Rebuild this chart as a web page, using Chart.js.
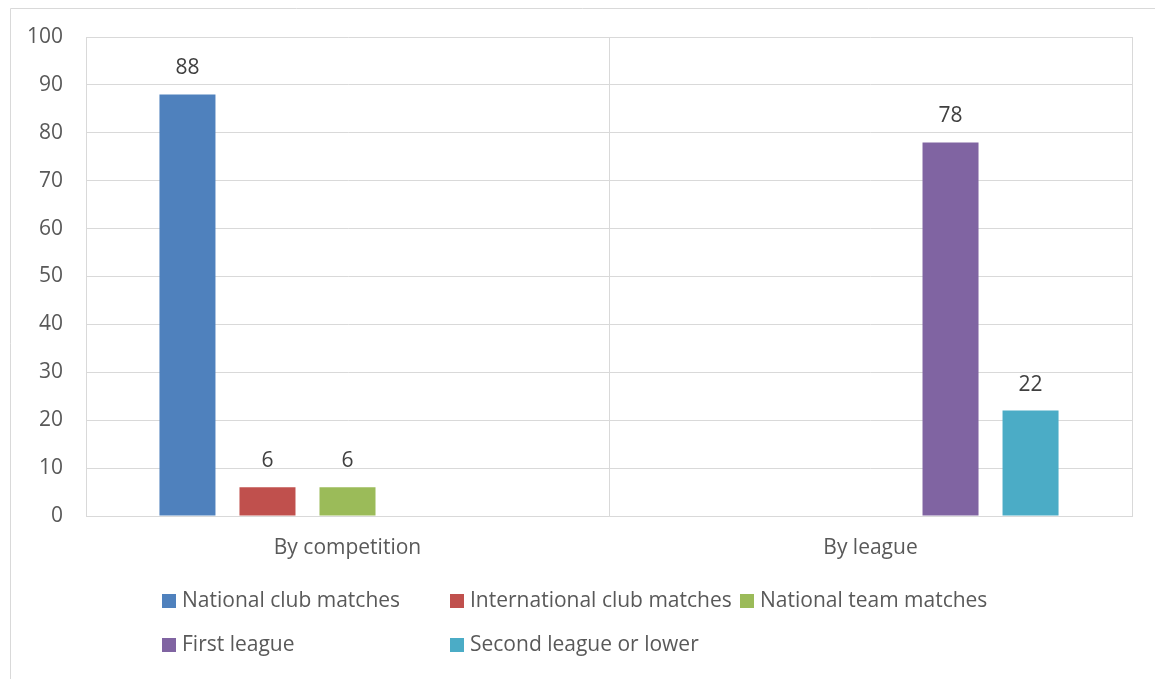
<!DOCTYPE html>
<html>
<head>
<meta charset="utf-8">
<script src="https://cdn.jsdelivr.net/npm/chart.js@4"></script>
<style>
  html, body { margin: 0; padding: 0; background: #fff; }
  #wrap { position: relative; width: 1155px; height: 679px; }
</style>
</head>
<body>
<div id="wrap"><canvas id="matchesChart" width="1155" height="679"></canvas></div>
<script>
let categories = ['By competition', 'By league'];
let seriesNames = ['National club matches', 'International club matches', 'National team matches', 'First league', 'Second league or lower'];
let nationalClub = [88, null];
let internationalClub = [6, null];
let nationalTeam = [6, null];
let firstLeague = [null, 78];
let secondLeague = [null, 22];
let seriesColors = ['#4f81bd', '#c0504d', '#9bbb59', '#8064a2', '#4bacc6'];
let yTicks = [0, 10, 20, 30, 40, 50, 60, 70, 80, 90, 100];

let fontFamily = "'Open Sans', sans-serif";
let fontSize = 21;
let gridColor = '#d9d9d9';

let datasets = [nationalClub, internationalClub, nationalTeam, firstLeague, secondLeague].map((values, i) => {
    return {
        label: seriesNames[i],
        data: values,
        backgroundColor: seriesColors[i],
        borderWidth: 0,
        categoryPercentage: 0.765,
        barPercentage: 0.7
    };
});

// frame line along the top and left edge
let framePlugin = {
    id: 'frame',
    beforeDraw: chart => {
        let ctx = chart.ctx;
        ctx.save();
        ctx.strokeStyle = gridColor;
        ctx.lineWidth = 1;
        ctx.beginPath();
        ctx.moveTo(10.5, 679);
        ctx.lineTo(10.5, 8.5);
        ctx.lineTo(1155, 8.5);
        ctx.stroke();
        ctx.restore();
    }
};

// value labels above each bar
let valueLabels = {
    id: 'valueLabels',
    afterDatasetsDraw: chart => {
        let ctx = chart.ctx;
        ctx.save();
        ctx.font = fontSize + 'px ' + fontFamily;
        ctx.fillStyle = '#404040';
        ctx.textAlign = 'center';
        ctx.textBaseline = 'middle';
        chart.data.datasets.forEach((ds, i) => {
            chart.getDatasetMeta(i).data.forEach((bar, j) => {
                let v = ds.data[j];
                if (v === null || v === undefined) return;
                ctx.fillText(String(v), bar.x, bar.y - 26);
            });
        });
        ctx.restore();
    }
};

// legend in two rows with aligned columns
let columnLegend = {
    id: 'columnLegend',
    afterDraw: chart => {
        let ctx = chart.ctx;
        let cols = [162, 450, 740];
        let rows = [601, 645];
        ctx.save();
        ctx.font = fontSize + 'px ' + fontFamily;
        ctx.textBaseline = 'middle';
        ctx.textAlign = 'left';
        chart.data.datasets.forEach((ds, i) => {
            let x = cols[i < 3 ? i : i - 3];
            let y = rows[i < 3 ? 0 : 1];
            ctx.fillStyle = ds.backgroundColor;
            ctx.fillRect(x, y - 7, 14, 14);
            ctx.fillStyle = '#595959';
            ctx.fillText(ds.label, x + 20, y);
        });
        ctx.restore();
    }
};

new Chart(document.getElementById('matchesChart').getContext('2d'), {
    type: 'bar',
    data: {
        labels: categories,
        datasets: datasets
    },
    options: {
        responsive: false,
        animation: false,
        layout: {
            padding: {top: 37, right: 23, bottom: 0, left: 0}
        },
        plugins: {
            legend: {display: false},
            tooltip: {enabled: false}
        },
        scales: {
            x: {
                grid: {color: gridColor, offset: true, drawTicks: false},
                border: {color: gridColor},
                ticks: {
                    color: '#595959',
                    font: {family: fontFamily, size: fontSize},
                    padding: 19
                },
                afterFit: scale => { scale.height = 163; }
            },
            y: {
                min: 0,
                max: 100,
                afterBuildTicks: scale => {
                    scale.ticks = yTicks.map(v => ({value: v}));
                },
                grid: {color: gridColor, drawTicks: false},
                border: {color: gridColor},
                ticks: {
                    color: '#595959',
                    font: {family: fontFamily, size: fontSize},
                    padding: 23
                },
                afterFit: scale => { scale.width = 86; }
            }
        }
    },
    plugins: [framePlugin, valueLabels, columnLegend]
});
</script>
</body>
</html>
